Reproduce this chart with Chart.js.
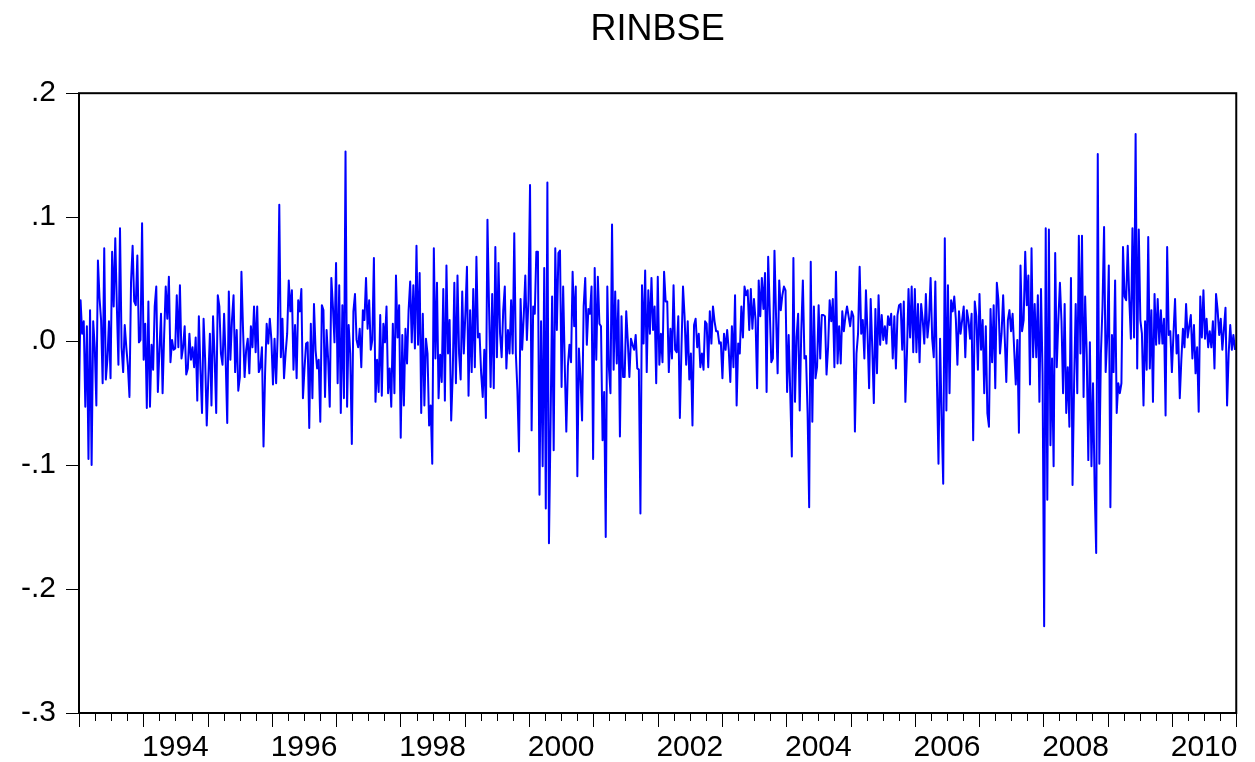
<!DOCTYPE html>
<html lang="en">
<head>
    <meta charset="UTF-8">
    <title>RINBSE</title>
    <script src="https://cdn.jsdelivr.net/npm/chart.js@4"></script>
    <style>
        html, body { margin: 0; padding: 0; background: #fff; }
    </style>
</head>
<body>
    <canvas id="rinbseChart" width="1255" height="762"></canvas>
    <script>
        // weekly returns in stretches of about 2.3 years
        const r1993_1995 = [
            -0.048, 0.033, 0.006, 0.016, -0.053, 0.012, -0.095, 0.025, -0.100, 0.016,
            -0.005, -0.052, 0.065, 0.035, 0.017, -0.034, 0.075, -0.031, -0.015, 0.016,
            -0.030, 0.072, 0.028, 0.083, 0.028, -0.019, 0.091, -0.005, -0.025, 0.013,
            -0.005, -0.020, -0.045, 0.048, 0.077, 0.032, 0.029, 0.069, -0.001, 0.001,
            0.095, -0.015, 0.014, -0.054, 0.032, -0.053, -0.003, -0.023, 0.028, 0.044,
            -0.041, -0.007, 0.022, -0.042, 0.005, 0.044, 0.018, 0.052, -0.017, 0.001,
            -0.007, -0.006, 0.037, -0.005, 0.045, -0.014, -0.005, 0.012, -0.027, -0.022,
            0.006, -0.015, -0.005, -0.021, 0.003, -0.048, 0.020, -0.023, -0.058, 0.018,
            -0.015, -0.068, -0.030, 0.006, -0.052, 0.020, -0.013, -0.058, 0.037, 0.028,
            -0.010
        ];
        const r1995_1997 = [
            -0.019, 0.022, -0.015, -0.066, 0.040, -0.015, 0.017, 0.037, -0.025, 0.009,
            -0.040, -0.029, 0.056, 0.010, -0.029, -0.007, 0.002, -0.026, 0.012, -0.005,
            0.028, -0.009, 0.028, -0.025, -0.021, -0.005, -0.085, -0.026, 0.014, -0.002,
            0.018, 0.001, -0.035, 0.002, -0.034, 0.006, 0.110, -0.013, 0.018, -0.030,
            -0.010, 0.006, 0.049, 0.024, 0.041, -0.023, 0.013, -0.030, 0.033, 0.024,
            0.042, -0.046, -0.022, -0.002, -0.001, -0.070, 0.014, -0.046, 0.030, -0.007,
            -0.022, -0.015, -0.065, 0.029, 0.025, -0.045, 0.009, -0.015, -0.053, 0.051,
            0.028, -0.001, 0.063, -0.034, 0.045, -0.058, 0.029, -0.046, 0.153, -0.053,
            0.013, -0.010, -0.083, 0.024, 0.038, 0.001, -0.005, 0.010, -0.021, 0.025,
            0.017, 0.051
        ];
        const r1997_1999 = [
            0.010, 0.033, -0.007, 0.001, 0.067, -0.049, -0.015, -0.041, 0.021, -0.044,
            0.014, -0.001, 0.028, -0.042, -0.022, -0.053, 0.014, -0.042, 0.053, 0.003,
            0.029, -0.078, 0.005, -0.052, 0.010, -0.018, 0.025, 0.048, -0.001, 0.045,
            -0.006, 0.077, -0.003, 0.055, -0.058, 0.022, -0.052, 0.002, -0.010, -0.068,
            -0.052, -0.099, 0.075, -0.014, 0.047, -0.046, -0.011, -0.033, 0.042, -0.048,
            0.061, -0.010, 0.017, -0.064, -0.026, 0.047, -0.034, 0.053, -0.010, -0.031,
            0.040, -0.010, 0.022, 0.060, -0.044, 0.025, -0.025, 0.042, -0.021, 0.068,
            0.003, 0.006, -0.026, -0.045, -0.007, -0.062, 0.098, 0.028, -0.037, 0.038,
            -0.038, 0.076, -0.013, 0.063, 0.006, -0.013, 0.025, 0.044, -0.022, 0.009,
            -0.010, 0.033
        ];
        const r1999_2002 = [
            -0.010, 0.087, -0.010, -0.040, -0.089, 0.034, -0.007, 0.020, 0.053, 0.001,
            0.033, 0.126, -0.072, 0.028, 0.022, 0.072, 0.072, -0.124, 0.016, -0.101,
            0.059, -0.135, 0.128, -0.163, -0.069, 0.036, -0.088, 0.075, 0.009, 0.071,
            0.073, -0.037, 0.044, -0.018, -0.073, -0.020, -0.003, -0.017, 0.056, 0.012,
            0.044, -0.109, -0.006, -0.030, -0.064, 0.028, 0.051, -0.003, 0.026, 0.022,
            0.044, -0.095, 0.059, -0.015, 0.052, 0.014, 0.012, -0.080, -0.041, -0.158,
            0.044, -0.021, -0.042, 0.094, -0.023, 0.040, -0.018, 0.033, -0.077, 0.020,
            -0.029, -0.029, 0.024, 0.000, -0.029, 0.002, -0.003, -0.007, 0.005, -0.022,
            -0.023, -0.139, 0.045, -0.002, 0.057, -0.025, 0.041, 0.006, 0.051, 0.009,
            0.028, -0.034, 0.052
        ];
        const r2002_2004 = [
            -0.019, 0.006, -0.017, 0.056, 0.032, 0.032, -0.025, 0.010, -0.014, 0.045,
            -0.007, -0.009, 0.020, -0.062, -0.007, 0.044, 0.020, -0.019, 0.016, -0.031,
            -0.010, -0.068, 0.013, 0.018, -0.005, 0.006, -0.021, -0.010, -0.023, 0.016,
            0.014, -0.021, 0.024, -0.002, 0.028, 0.016, 0.008, 0.008, -0.002, -0.001,
            -0.030, 0.006, -0.007, 0.009, -0.007, -0.033, 0.012, -0.021, 0.037, -0.052,
            -0.002, -0.010, 0.028, 0.003, 0.044, 0.037, 0.041, 0.009, 0.042, 0.010,
            0.034, 0.017, -0.038, 0.049, 0.020, 0.051, 0.026, 0.055, -0.041, 0.068,
            0.025, -0.017, -0.014, 0.073, 0.020, -0.026, 0.049, 0.025, 0.037, 0.044,
            0.041, -0.041, 0.005, -0.042, -0.093, 0.067, -0.049, 0.003, 0.022, -0.056,
            0.008, 0.049
        ];
        const r2004_2006 = [
            -0.014, -0.012, -0.058, -0.134, 0.064, -0.065, 0.028, -0.030, -0.021, 0.029,
            -0.014, 0.021, 0.021, 0.020, -0.027, -0.005, 0.033, 0.016, 0.034, -0.021,
            0.056, -0.018, 0.012, -0.018, 0.024, 0.008, 0.020, 0.028, 0.020, 0.012,
            0.024, 0.020, -0.073, -0.010, 0.006, 0.060, 0.006, 0.017, -0.014, 0.041,
            0.006, -0.038, 0.034, -0.005, -0.050, 0.026, -0.026, 0.037, -0.003, 0.021,
            0.001, 0.012, -0.002, 0.020, 0.013, 0.022, -0.014, 0.020, -0.022, 0.021,
            0.029, 0.030, -0.007, 0.032, -0.049, -0.010, 0.042, 0.003, 0.044, -0.009,
            0.042, -0.009, 0.030, -0.017, 0.030, 0.017, -0.002, 0.038, 0.003, 0.017,
            0.051, 0.002, -0.013, 0.048, -0.031, -0.099, 0.002, -0.064, -0.115, 0.083,
            -0.056, 0.045, -0.042
        ];
        const r2006_2008 = [
            0.033, 0.024, 0.036, 0.018, -0.019, 0.024, 0.006, 0.017, 0.028, -0.013,
            0.025, 0.017, 0.002, 0.022, -0.080, 0.032, 0.020, -0.023, 0.038, -0.007,
            0.017, -0.042, 0.012, -0.058, -0.069, 0.026, -0.017, 0.029, -0.038, 0.047,
            0.033, -0.010, 0.006, 0.037, 0.003, -0.033, 0.017, 0.025, 0.008, 0.022,
            -0.007, -0.035, 0.001, -0.074, 0.061, 0.008, 0.017, 0.072, 0.029, 0.053,
            -0.035, 0.075, -0.013, 0.030, -0.013, 0.037, -0.049, 0.042, -0.027, -0.230,
            0.091, -0.128, 0.090, -0.084, -0.014, -0.101, 0.071, -0.021, 0.017, 0.047,
            0.016, -0.042, 0.030, -0.058, -0.021, -0.069, 0.051, -0.116, -0.034, 0.030,
            -0.042, 0.085, -0.010, 0.085, -0.045, 0.036, -0.011, -0.096, -0.001, -0.101,
            -0.034, -0.117
        ];
        const r2008_2010 = [
            -0.171, 0.151, -0.099, -0.010, 0.028, 0.092, -0.025, 0.003, 0.061, -0.134,
            0.005, -0.025, 0.049, -0.058, -0.034, -0.042, -0.034, 0.076, 0.036, 0.033,
            0.077, 0.033, 0.002, 0.091, 0.003, 0.167, -0.022, 0.090, 0.017, 0.006,
            -0.052, 0.016, -0.023, 0.084, -0.022, 0.025, -0.049, 0.038, -0.003, 0.034,
            -0.002, 0.025, -0.002, 0.018, -0.060, 0.076, 0.005, 0.008, -0.025, 0.006,
            0.034, -0.010, 0.005, -0.046, -0.015, 0.010, -0.005, 0.030, 0.003, 0.012,
            0.021, -0.014, 0.013, -0.026, -0.005, -0.057, 0.036, 0.003, 0.041, 0.002,
            0.018, -0.005, 0.008, -0.005, 0.016, -0.022, 0.038, 0.025, 0.005, 0.018,
            -0.007, 0.010, 0.027, -0.052, -0.010, 0.013, -0.007, 0.005, -0.007
        ];

        const yTicks = [0.2, 0.1, 0.0, -0.1, -0.2, -0.3];
        const yearLabels = [1994, 1996, 1998, 2000, 2002, 2004, 2006, 2008, 2010];
        const firstYear = 1993;
        const lastYear = 2011;
        const seriesStart = 1993.0;
        const seriesEnd = 2010.98;

        const rinbse = [].concat(r1993_1995, r1995_1997, r1997_1999, r1999_2002,
                                 r2002_2004, r2004_2006, r2006_2008, r2008_2010);
        const step = (seriesEnd - seriesStart) / (rinbse.length - 1);
        const points = rinbse.map((v, i) => ({ x: seriesStart + i * step, y: v }));

        const FONT = "'Liberation Sans', Arial, Helvetica, sans-serif";

        // frame around the plot and the year / quarter tick marks under it
        const frameAndTicks = {
            id: 'frameAndTicks',
            afterDraw(chart) {
                const { ctx, chartArea: a } = chart;
                const x = chart.scales.x;
                ctx.save();
                ctx.strokeStyle = '#000';
                ctx.lineWidth = 1;
                for (let q = firstYear * 4; q <= lastYear * 4; q++) {
                    const px = Math.round(x.getPixelForValue(q / 4)) + 0.5;
                    const len = (q % 4 === 0) ? 14 : 8;
                    ctx.beginPath();
                    ctx.moveTo(px, a.bottom);
                    ctx.lineTo(px, a.bottom + len);
                    ctx.stroke();
                }
                ctx.lineWidth = 2;
                ctx.strokeRect(a.left, a.top, a.right - a.left, a.bottom - a.top);
                ctx.restore();
            }
        };

        new Chart(document.getElementById('rinbseChart'), {
            type: 'line',
            data: {
                datasets: [{
                    label: 'RINBSE',
                    data: points,
                    borderColor: '#0000ff',
                    borderWidth: 2,
                    borderJoinStyle: 'round',
                    pointRadius: 0,
                    tension: 0,
                    fill: false
                }]
            },
            options: {
                responsive: false,
                animation: false,
                devicePixelRatio: 1,
                layout: { padding: { left: 0, right: 15, top: 0, bottom: 0 } },
                plugins: {
                    legend: { display: false },
                    tooltip: { enabled: false },
                    title: {
                        display: true,
                        text: 'RINBSE',
                        fullSize: false,
                        color: '#000',
                        font: { family: FONT, size: 36, weight: 'normal' },
                        padding: { top: 8, bottom: 42 }
                    }
                },
                scales: {
                    x: {
                        type: 'linear',
                        min: firstYear,
                        max: lastYear,
                        border: { display: false },
                        grid: { display: false, drawTicks: false },
                        afterBuildTicks: scale => {
                            scale.ticks = yearLabels.map(y => ({ value: y + 0.5 }));
                        },
                        afterFit: scale => { scale.height = 49; },
                        ticks: {
                            autoSkip: false,
                            maxRotation: 0,
                            padding: 17,
                            color: '#000',
                            font: { family: FONT, size: 30 },
                            callback: value => String(Math.floor(value))
                        }
                    },
                    y: {
                        min: -0.3,
                        max: 0.2,
                        border: { display: false },
                        grid: {
                            drawOnChartArea: false,
                            drawTicks: true,
                            tickLength: 13,
                            tickColor: '#000',
                            tickWidth: 1
                        },
                        afterBuildTicks: scale => {
                            scale.ticks = yTicks.map(v => ({ value: v }));
                        },
                        afterFit: scale => { scale.width = 79; },
                        ticks: {
                            padding: 10,
                            color: '#000',
                            font: { family: FONT, size: 30 },
                            callback: value => (Math.round(value * 10) / 10).toFixed(1).replace('0.', '.')
                        }
                    }
                }
            },
            plugins: [frameAndTicks]
        });
    </script>
</body>
</html>
